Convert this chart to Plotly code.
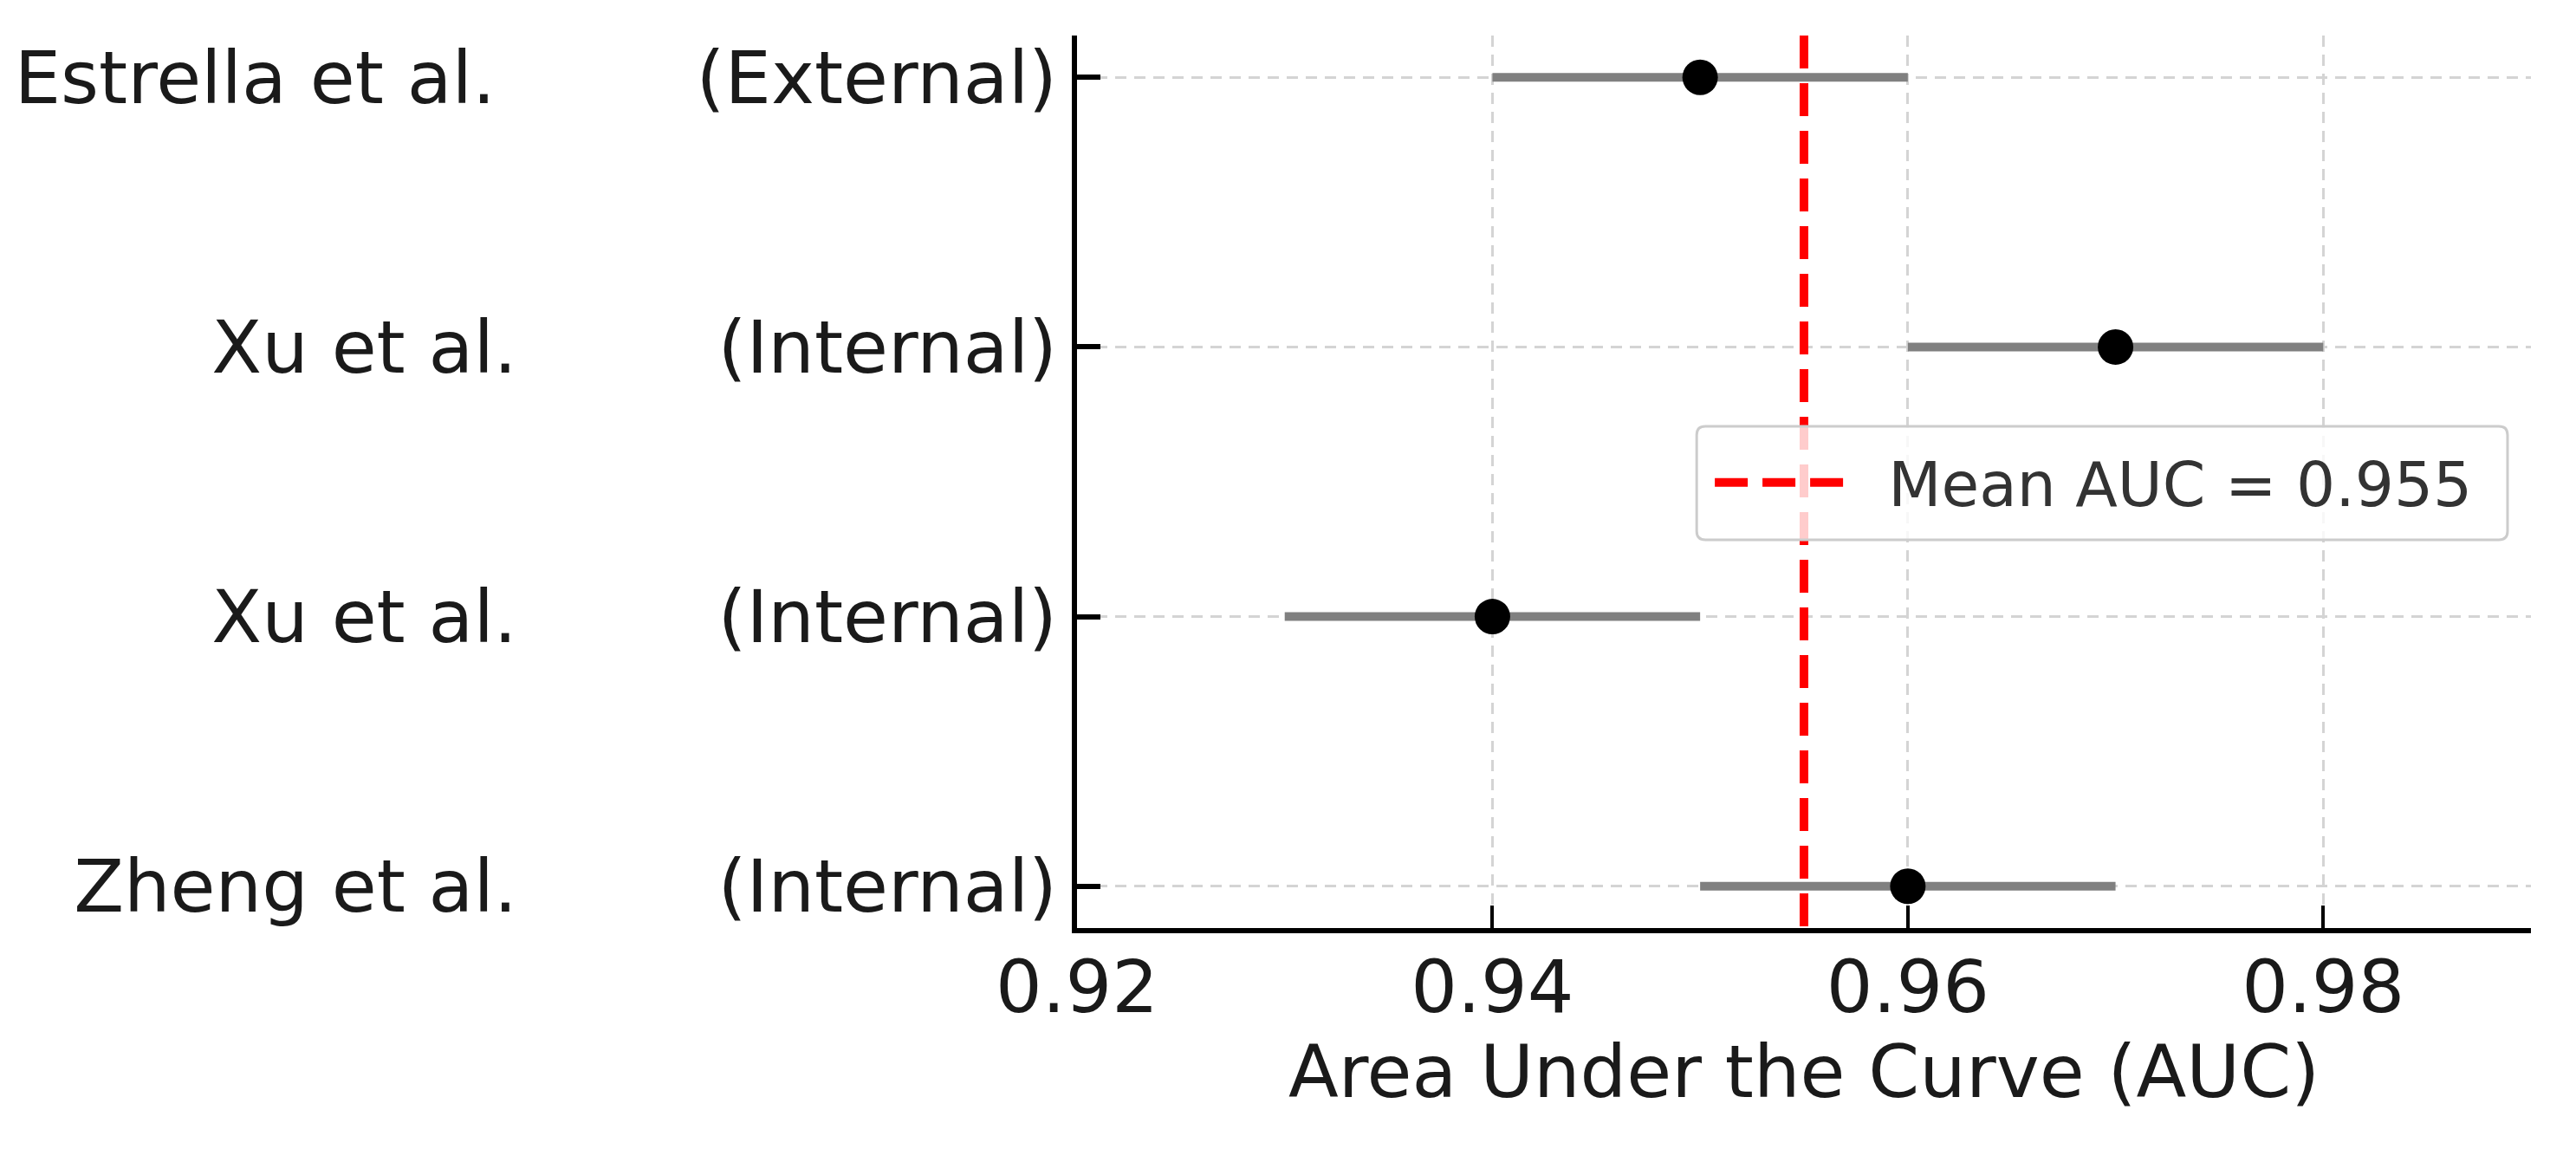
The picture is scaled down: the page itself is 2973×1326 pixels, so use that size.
import numpy as np
import plotly.graph_objects as go

OUTFILE = "out.html"

# study rows, top to bottom
studies = ["Estrella et al.", "Xu et al.", "Xu et al.", "Zheng et al."]
cohorts = ["(External)", "(Internal)", "(Internal)", "(Internal)"]
auc = [0.95, 0.97, 0.94, 0.96]
ci_low = [0.94, 0.96, 0.93, 0.95]
ci_high = [0.96, 0.98, 0.95, 0.97]

x_ticks = [0.92, 0.94, 0.96, 0.98]
x_range = [0.92, 0.99]
y_pad = 0.155

FONT = "DejaVu Sans"
GRID = "#d4d4d4"
FS = 84.5


def rounded_box(x0, y0, x1, y1, rx, ry):
    # rectangle path with rounded corners, in paper units
    return (
        f"M{x0 + rx},{y0} L{x1 - rx},{y0} Q{x1},{y0} {x1},{y0 + ry} "
        f"L{x1},{y1 - ry} Q{x1},{y1} {x1 - rx},{y1} "
        f"L{x0 + rx},{y1} Q{x0},{y1} {x0},{y1 - ry} "
        f"L{x0},{y0 + ry} Q{x0},{y0} {x0 + rx},{y0} Z"
    )


if __name__ == "__main__":
    n = len(studies)
    rows = list(range(n))
    mean_auc = float(np.mean(auc))
    gap = "\u00a0" * 8 + "\u2009"
    labels = [f"{s}{gap}{c}" for s, c in zip(studies, cohorts)]

    fig = go.Figure()

    fig.add_trace(
        go.Scatter(
            x=auc,
            y=rows,
            mode="markers",
            marker=dict(size=41, color="black"),
            error_x=dict(
                type="data",
                symmetric=False,
                array=[h - a for h, a in zip(ci_high, auc)],
                arrayminus=[a - l for a, l in zip(auc, ci_low)],
                color="gray",
                thickness=10,
                width=0,
            ),
            showlegend=False,
        )
    )

    fig.add_trace(
        go.Scatter(
            x=[mean_auc, mean_auc],
            y=[-y_pad, n - 1 + y_pad],
            mode="lines",
            line=dict(color="red", width=10, dash="38px,17px"),
            name="\u00a0\u00a0" + f"Mean AUC = {mean_auc:.3f}",
        )
    )

    fig.update_xaxes(
        range=x_range,
        tickvals=x_ticks,
        ticktext=[f"{v:.2f}" for v in x_ticks],
        ticks="inside",
        ticklen=26,
        tickwidth=3.5,
        tickcolor="black",
        ticklabelstandoff=-10,
        showline=True,
        linewidth=6,
        linecolor="black",
        showgrid=True,
        gridcolor=GRID,
        gridwidth=3,
        griddash="13px,9px",
        zeroline=False,
        automargin=False,
        tickfont=dict(family=FONT, size=FS, color="#1a1a1a"),
        title=dict(
            text="Area Under the Curve (AUC)",
            font=dict(family=FONT, size=FS, color="#1a1a1a"),
            standoff=20,
        ),
    )

    fig.update_yaxes(
        range=[n - 1 + y_pad, -y_pad],
        tickvals=rows,
        ticktext=labels,
        ticks="inside",
        ticklen=27,
        tickwidth=6,
        tickcolor="black",
        ticklabelstandoff=0,
        showline=True,
        linewidth=6,
        linecolor="black",
        showgrid=True,
        gridcolor=GRID,
        gridwidth=3,
        griddash="13px,9px",
        zeroline=False,
        automargin=False,
        tickfont=dict(family=FONT, size=FS, color="#1a1a1a"),
    )

    # legend frame (matplotlib-like rounded box, semi-opaque)
    fig.add_shape(
        type="path",
        xref="paper",
        yref="paper",
        path=rounded_box(0.4262, 0.4350, 0.9839, 0.5621, 0.006, 0.0097),
        fillcolor="rgba(255,255,255,0.8)",
        line=dict(color="#cccccc", width=3),
        layer="above",
    )

    fig.update_layout(
        width=2973,
        height=1326,
        margin=dict(l=1243, r=52, t=41, b=255),
        paper_bgcolor="white",
        plot_bgcolor="white",
        font=dict(family=FONT),
        legend=dict(
            x=0.4357,
            y=0.499,
            xanchor="left",
            yanchor="middle",
            bgcolor="rgba(0,0,0,0)",
            borderwidth=0,
            itemwidth=150,
            font=dict(family=FONT, size=71, color="#333333"),
        ),
    )

    fig.write_html(
        OUTFILE,
        config={"displayModeBar": False},
        post_script="document.body.style.margin='0px';",
    )
